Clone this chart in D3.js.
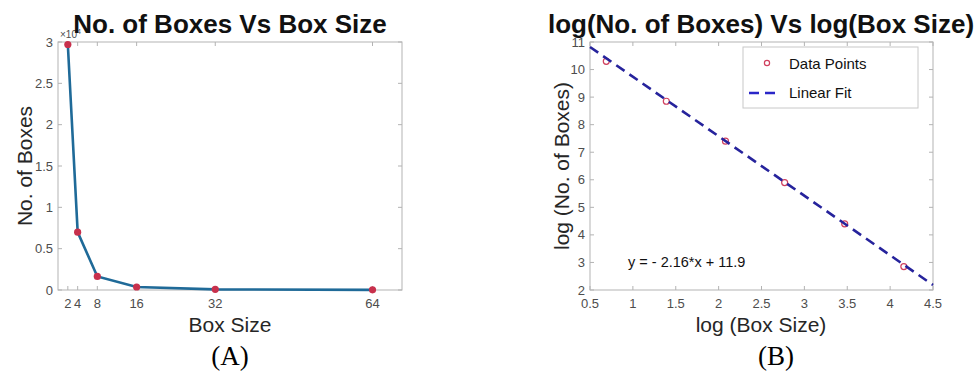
<!DOCTYPE html>
<html>
<head>
<meta charset="utf-8">
<script src="https://cdn.jsdelivr.net/npm/d3@7"></script>
<style>
  body { margin: 0; background: #fff; }
  svg { font-family: "Liberation Sans", Arial, sans-serif; }
</style>
</head>
<body>
<script>
// data
var boxSizes = [2, 4, 8, 16, 32, 64],
    boxCounts = [29700, 7000, 1640, 365, 81, 17],
    logSizes = [0.69, 1.39, 2.08, 2.77, 3.47, 4.16],
    logCounts = [10.3, 8.85, 7.4, 5.9, 4.4, 2.85],
    fitX = [0.5, 4.5],
    fitSlope = -2.16,
    fitIntercept = 11.9,
    xTicksA = [2, 4, 8, 16, 32, 64],
    yTicksA = [0, 0.5, 1, 1.5, 2, 2.5, 3],
    xTicksB = [0.5, 1, 1.5, 2, 2.5, 3, 3.5, 4, 4.5],
    yTicksB = [2, 3, 4, 5, 6, 7, 8, 9, 10, 11];

var width = 979,
    height = 371,
    yTop = 42,
    yBot = 290,
    axisCol = "#b3b3b3",
    tickCol = "#4d4d4d",
    labCol = "#262626";

var svg = d3.select("body").append("svg")
  .attr("width", width)
  .attr("height", height);

// draws the box, inner ticks on all four sides, and tick labels
function drawFrame(g, x, y, xTicks, yTicks, xFmt, yFmt) {
  var x0 = x.range()[0], x1 = x.range()[1],
      y0 = y.range()[0], y1 = y.range()[1];

  g.append("rect")
    .attr("x", x0).attr("y", y1)
    .attr("width", x1 - x0).attr("height", y0 - y1)
    .attr("fill", "none")
    .attr("stroke", axisCol)
    .attr("stroke-width", 1);

  xTicks.forEach(function(t) {
    g.append("line").attr("x1", x(t)).attr("x2", x(t)).attr("y1", y0).attr("y2", y0 - 4)
      .attr("stroke", axisCol);
    g.append("line").attr("x1", x(t)).attr("x2", x(t)).attr("y1", y1).attr("y2", y1 + 4)
      .attr("stroke", axisCol);
    g.append("text").attr("x", x(t)).attr("y", y0 + 18)
      .attr("text-anchor", "middle")
      .attr("font-size", 13).attr("fill", tickCol)
      .text(xFmt(t));
  });

  yTicks.forEach(function(t) {
    g.append("line").attr("x1", x0).attr("x2", x0 + 4).attr("y1", y(t)).attr("y2", y(t))
      .attr("stroke", axisCol);
    g.append("line").attr("x1", x1).attr("x2", x1 - 4).attr("y1", y(t)).attr("y2", y(t))
      .attr("stroke", axisCol);
    g.append("text").attr("x", x0 - 5).attr("y", y(t) + 4.5)
      .attr("text-anchor", "end")
      .attr("font-size", 13).attr("fill", tickCol)
      .text(yFmt(t));
  });
}

function addTitles(g, cx, title, xLab, yLab, yLabX, tag, tagX) {
  g.append("text").attr("x", cx).attr("y", 33)
    .attr("text-anchor", "middle")
    .attr("font-size", 26).attr("font-weight", "bold").attr("fill", "#111")
    .text(title);
  g.append("text").attr("x", cx).attr("y", 332)
    .attr("text-anchor", "middle")
    .attr("font-size", 21).attr("fill", labCol)
    .text(xLab);
  g.append("text")
    .attr("transform", "translate(" + yLabX + "," + ((yTop + yBot) / 2) + ") rotate(-90)")
    .attr("text-anchor", "middle")
    .attr("font-size", 21).attr("fill", labCol)
    .text(yLab);
  g.append("text").attr("x", tagX).attr("y", 365)
    .attr("text-anchor", "middle")
    .style("font-family", "'Liberation Serif', 'Times New Roman', serif")
    .attr("font-size", 27).attr("fill", "#000")
    .text(tag);
}

// ---- panel A
var xA = d3.scaleLinear().domain([0, 70]).range([58, 402]),
    yA = d3.scaleLinear().domain([0, 30000]).range([yBot, yTop]);

var gA = svg.append("g");
drawFrame(gA, xA, yA, xTicksA, yTicksA.map(function(v) { return v * 10000; }),
  function(d) { return d; },
  function(d) { return d / 10000; });

// exponent label
gA.append("text").attr("x", 60).attr("y", 38)
  .attr("font-size", 10).attr("fill", tickCol)
  .html("\u00d710<tspan dy='-4' font-size='7'>4</tspan>");

var lineA = d3.line()
  .x(function(d) { return xA(d[0]); })
  .y(function(d) { return yA(d[1]); });

var ptsA = d3.zip(boxSizes, boxCounts);

gA.append("path")
  .attr("d", lineA(ptsA))
  .attr("fill", "none")
  .attr("stroke", "#1f6a98")
  .attr("stroke-width", 2.6);

gA.selectAll("circle")
  .data(ptsA)
  .enter()
    .append("circle")
    .attr("cx", function(d) { return xA(d[0]); })
    .attr("cy", function(d) { return yA(d[1]); })
    .attr("r", 3.6)
    .attr("fill", "#c8304c");

addTitles(gA, 230, "No. of Boxes Vs Box Size", "Box Size", "No. of Boxes", 32, "(A)", 230);

// ---- panel B
var xB = d3.scaleLinear().domain([0.5, 4.5]).range([590, 933]),
    yB = d3.scaleLinear().domain([2, 11]).range([yBot, yTop]);

var gB = svg.append("g");
drawFrame(gB, xB, yB, xTicksB, yTicksB,
  function(d) { return d; },
  function(d) { return d; });

var lineB = d3.line()
  .x(function(d) { return xB(d); })
  .y(function(d) { return yB(fitSlope * d + fitIntercept); });

gB.selectAll("circle")
  .data(d3.zip(logSizes, logCounts))
  .enter()
    .append("circle")
    .attr("cx", function(d) { return xB(d[0]); })
    .attr("cy", function(d) { return yB(d[1]); })
    .attr("r", 3)
    .attr("fill", "none")
    .attr("stroke", "#d0405e")
    .attr("stroke-width", 1.2);

gB.append("path")
  .attr("d", lineB(fitX))
  .attr("fill", "none")
  .attr("stroke", "#26239c")
  .attr("stroke-width", 2.6)
  .attr("stroke-dasharray", "10,6");

gB.append("text").attr("x", 628).attr("y", 267)
  .attr("font-size", 14.5).attr("fill", "#111")
  .text("y = - 2.16*x + 11.9");

// legend
var leg = gB.append("g");
leg.append("rect")
  .attr("x", 743).attr("y", 47).attr("width", 175).attr("height", 61)
  .attr("fill", "#fff").attr("stroke", "#c8c8c8");
leg.append("circle").attr("cx", 767).attr("cy", 63).attr("r", 2.6)
  .attr("fill", "none").attr("stroke", "#d0405e").attr("stroke-width", 1.2);
leg.append("text").attr("x", 789).attr("y", 69)
  .attr("font-size", 15).attr("fill", "#111").text("Data Points");
leg.append("line").attr("x1", 749).attr("x2", 779).attr("y1", 93).attr("y2", 93)
  .attr("stroke", "#2a26c8").attr("stroke-width", 2.6).attr("stroke-dasharray", "10,6");
leg.append("text").attr("x", 789).attr("y", 98)
  .attr("font-size", 15).attr("fill", "#111").text("Linear Fit");

addTitles(gB, 761, "log(No. of Boxes) Vs log(Box Size)", "log (Box Size)", "log (No. of Boxes)", 569, "(B)", 776);
</script>
</body>
</html>
